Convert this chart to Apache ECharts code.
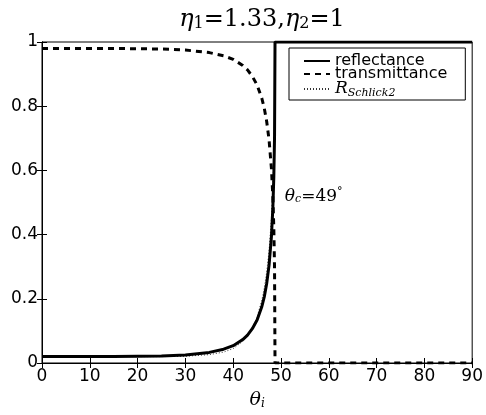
<!DOCTYPE html>
<html>
<head>
<meta charset="utf-8">
<script src="https://cdn.jsdelivr.net/npm/echarts@6/dist/echarts.min.js"></script>
<style>
  html, body { margin: 0; padding: 0; background: #fff; }
  #chart { width: 486px; height: 415px; }
</style>
</head>
<body>
<div id="chart"></div>
<script>
// incidence angles (degrees)
const angles = [0, 5, 10, 15, 20, 25, 30, 35, 38, 40, 42, 43, 44, 45, 46, 46.5, 47, 47.5, 48, 48.3, 48.5, 48.65, 48.75, 50, 60, 70, 80, 90];
const reflectance = [0.020, 0.020, 0.020, 0.020, 0.021, 0.022, 0.025, 0.033, 0.043, 0.054, 0.073, 0.087, 0.107, 0.134, 0.176, 0.206, 0.247, 0.304, 0.394, 0.484, 0.580, 0.704, 1, 1, 1, 1, 1, 1];
const transmittance = [0.980, 0.980, 0.980, 0.980, 0.979, 0.978, 0.975, 0.967, 0.957, 0.946, 0.927, 0.913, 0.893, 0.866, 0.824, 0.794, 0.753, 0.696, 0.606, 0.516, 0.420, 0.296, 0, 0, 0, 0, 0, 0];
const schlick = [0.020, 0.020, 0.020, 0.020, 0.020, 0.020, 0.021, 0.026, 0.034, 0.045, 0.067, 0.084, 0.108, 0.143, 0.196, 0.233, 0.282, 0.349, 0.450, 0.544, 0.638, 0.754, 1, 1, 1, 1, 1, 1];
const xTicks = [0, 10, 20, 30, 40, 50, 60, 70, 80, 90];
const yTicks = [0, 0.2, 0.4, 0.6, 0.8, 1];
const criticalAngle = 49;

const pairs = (ys) => angles.map((a, i) => [a, ys[i]]);

const serif = "'DejaVu Serif', 'Liberation Serif', serif";
const sans = "'DejaVu Sans', sans-serif";

const subRich = {
  i: { fontFamily: serif, fontStyle: "italic", fontWeight: "normal", fontSize: 24, color: "#000", lineHeight: 24 },
  n: { fontFamily: serif, fontWeight: "normal", fontSize: 24, color: "#000", lineHeight: 24 },
  s: { fontFamily: serif, fontWeight: "normal", fontSize: 16, color: "#000", lineHeight: 14, verticalAlign: "bottom" },
};

function renderChart() {
  const chart = echarts.init(document.getElementById("chart"), null, { renderer: "canvas" });

  const axisCommon = {
    axisLine: { lineStyle: { color: "#000", width: 1 } },
    axisTick: { inside: true, length: 5, lineStyle: { color: "#000" } },
    splitLine: { show: false },
  };

  const options = {
    animation: false,
    backgroundColor: "#fff",
    title: {
      text: "{i|η}{s|1}{n|=1.33,}{i|η}{s|2}{n|=1}",
      left: 257,
      textAlign: "center",
      top: 3,
      textStyle: { fontWeight: "normal", rich: subRich },
    },
    grid: { left: 42, right: 11, top: 42, bottom: 43, show: true, borderColor: "#000", borderWidth: 1 },
    legend: {
      orient: "vertical",
      left: 289,
      top: 48,
      padding: [5, 18, 1, 14],
      itemGap: -3,
      itemWidth: 26,
      itemHeight: 10,
      borderColor: "#000",
      borderWidth: 1,
      backgroundColor: "#fff",
      itemStyle: { opacity: 0 },
      data: ["reflectance", "transmittance", "RSchlick2"],
      textStyle: {
        fontFamily: sans,
        fontSize: 16,
        lineHeight: 13,
        color: "#000",
        rich: {
          r: { fontFamily: serif, fontStyle: "italic", fontSize: 17, lineHeight: 20, color: "#000" },
          sub: { fontFamily: serif, fontStyle: "italic", fontSize: 11, lineHeight: 12, color: "#000", verticalAlign: "bottom" },
        },
      },
      formatter: (name) => (name === "RSchlick2" ? "{r|R}{sub|Schlick2}" : name),
    },
    xAxis: [
      Object.assign({}, axisCommon, {
        type: "value",
        min: xTicks[0],
        max: xTicks[xTicks.length - 1],
        interval: 10,
        name: "{i|θ}{s|i}",
        nameLocation: "middle",
        nameGap: 27,
        nameTextStyle: {
          rich: {
            i: { fontFamily: serif, fontStyle: "italic", fontSize: 19, color: "#000", lineHeight: 20 },
            s: { fontFamily: serif, fontStyle: "italic", fontSize: 12, color: "#000", lineHeight: 12, verticalAlign: "bottom" },
          },
        },
        axisLabel: { color: "#000", fontFamily: sans, fontSize: 17, margin: 5 },
      }),
      Object.assign({}, axisCommon, {
        type: "value",
        position: "top",
        min: xTicks[0],
        max: xTicks[xTicks.length - 1],
        interval: 10,
        axisLabel: { show: false },
      }),
    ],
    yAxis: [
      Object.assign({}, axisCommon, {
        type: "value",
        min: yTicks[0],
        max: yTicks[yTicks.length - 1],
        interval: 0.2,
        axisLabel: { color: "#000", fontFamily: sans, fontSize: 17, margin: 4 },
      }),
      Object.assign({}, axisCommon, {
        type: "value",
        position: "right",
        min: yTicks[0],
        max: yTicks[yTicks.length - 1],
        interval: 0.2,
        axisLabel: { show: false },
      }),
    ],
    series: [
      {
        name: "RSchlick2",
        type: "line",
        symbol: "none",
        data: pairs(schlick),
        lineStyle: { color: "#333", width: 1, type: [1, 2] },
        itemStyle: { color: "#333" },
        z: 2,
      },
      {
        name: "transmittance",
        type: "line",
        symbol: "none",
        data: pairs(transmittance),
        lineStyle: { color: "#000", width: 3, type: [6, 5] },
        itemStyle: { color: "#000" },
        z: 3,
      },
      {
        name: "reflectance",
        type: "line",
        symbol: "none",
        data: pairs(reflectance),
        lineStyle: { color: "#000", width: 3 },
        itemStyle: { color: "#000" },
        z: 4,
        markPoint: {
          symbol: "rect",
          symbolSize: 0,
          data: [{ coord: [50.8, 0.52] }],
          label: {
            show: true,
            position: "right",
            distance: 0,
            formatter: "{i|θ}{s|c}{n|=" + criticalAngle + "}{u|°}",
            rich: {
              i: { fontFamily: serif, fontStyle: "italic", fontSize: 17, color: "#000", lineHeight: 18 },
              n: { fontFamily: serif, fontSize: 17, color: "#000", lineHeight: 18 },
              s: { fontFamily: serif, fontStyle: "italic", fontSize: 11, color: "#000", lineHeight: 11, verticalAlign: "bottom" },
              u: { fontFamily: serif, fontSize: 11, color: "#000", lineHeight: 11, verticalAlign: "top" },
            },
          },
        },
      },
    ],
  };

  chart.setOption(options);
}

document.addEventListener("DOMContentLoaded", renderChart);
</script>
</body>
</html>
